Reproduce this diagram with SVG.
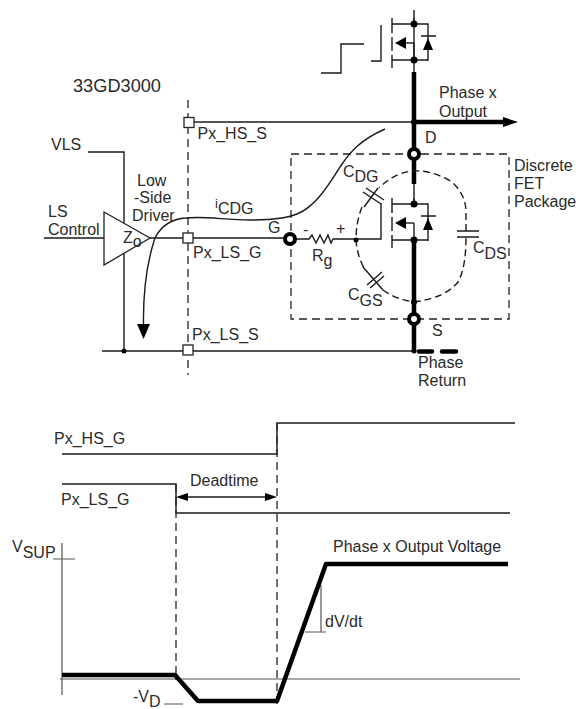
<svg xmlns="http://www.w3.org/2000/svg" width="576" height="709" viewBox="0 0 576 709">
<style>
text{font-family:"Liberation Sans",Arial,sans-serif;font-size:16px;fill:#2a2a2a}
.s{font-size:18.2px}
.l{fill:none;stroke:#1a1a1a;stroke-width:1.4}
.g{fill:none;stroke:#555;stroke-width:1.2}
.t{fill:none;stroke:#000;stroke-width:4.5}
.d{fill:none;stroke:#222;stroke-width:1.3;stroke-dasharray:8 5}
.f{fill:#000;stroke:none}
.n{fill:#fff;stroke:#222;stroke-width:1.3}
.o{fill:#fff;stroke:#000;stroke-width:4}
</style>
<defs>
<g id="fet">
<path class="l" d="M-22 -6V9M-22 13V27M-22 31V44M-22 0H14V12M14 36H-22M0 0V-6M0 19V36M14 37V12M7 12H22"/>
<path class="l" d="M0 19H-8"/>
<path class="f" d="M-19 19L-8 13V25Z M14 14L9 26H19Z"/>
<circle class="f" cx="0" cy="0" r="3.5"/>
<circle class="f" cx="0" cy="36" r="3.5"/>
</g>
</defs>
<g id="connectors">
<path class="l" d="M414 10V72M321 73H341V44H364M381 25V61H371"/>
<path class="t" d="M414 72V184M414 240V352"/>
<path class="t" d="M414 122H505"/>
<path class="f" d="M503 117L518 122L503 127Z"/>
<path class="l" d="M188 122H414"/>
<path class="l" d="M44 238H104M150 238H290M88 152H124V351M102 351H414"/>
<path class="l" d="M290 239H309L312 235L316 243L320 235L324 243L328 235L331 243L333 239H381V203"/>
<path class="l" d="M414 184V204"/>
<path class="t" d="M419 351.500H432M442 351.500H456" stroke-linecap="round"/>
<path class="d" d="M188 100V375"/>
<path class="l" d="M143.500 326C143 295 147 262 155 238C161 226 170 219 186 218C205 216 225 220 250 220C270 220 285 219 297 214C315 207 328 186 340 167C350 152 360 140 385 129"/>
<path class="f" d="M137 324H150L143.500 339Z"/>
<path class="l" stroke-dasharray="7 4" d="M362 207Q356 222 356 240Q357 255 364 268M383 290Q395 299 414 302Q445 298 458 282Q466 268 466 237M466 231V212Q466 195 452 182Q432 170 414 171Q395 172 379 188"/>
<path class="l" d="M457 231H479M457 237H479"/>
<path class="l" d="M363 192L381 204M366 188L384 200M364 207L378 188"/>
<path class="l" d="M367 285L382 272M370 288L384 276M363 267L383 290"/>
<circle class="f" cx="124" cy="351" r="2.500"/>
<circle class="f" cx="356" cy="240" r="2.500"/>
<circle class="f" cx="414" cy="302" r="3"/>
<circle class="f" cx="414" cy="122" r="3"/>
<circle class="f" cx="414" cy="351" r="2.500"/>
</g>
<g id="hs-fet"><use href="#fet" transform="translate(414 24)"/></g>
<g id="ls-fet"><use href="#fet" transform="translate(414 204)"/></g>
<g id="package"><rect class="d" x="291" y="154" width="218" height="165"/></g>
<g id="driver"><path class="n" d="M104 212L150 238L104 265Z"/></g>
<g id="pad-hs"><rect class="n" x="184" y="117.500" width="10" height="10"/></g>
<g id="pad-lsg"><rect class="n" x="183" y="233" width="10" height="10"/></g>
<g id="pad-lss"><rect class="n" x="183" y="345" width="10" height="10"/></g>
<g id="term-d"><circle class="o" cx="414" cy="154" r="5"/></g>
<g id="term-s"><circle class="o" cx="414" cy="319" r="5"/></g>
<g id="term-g"><circle class="o" cx="290" cy="239" r="5"/></g>
<g id="labels">
<text x="73" y="92" class="s">33GD3000</text>
<text x="51" y="150">VLS</text>
<text x="48" y="217">LS</text>
<text x="48" y="235">Control</text>
<text x="137" y="186">Low</text>
<text x="134" y="203">-Side</text>
<text x="132" y="221">Driver</text>
<text x="123" y="243">Z<tspan dy="4">o</tspan></text>
<text x="197.500" y="139">Px_HS_S</text>
<text x="193" y="258">Px_LS_G</text>
<text x="192" y="340">Px_LS_S</text>
<text x="215" y="208" style="font-size:13px">i<tspan style="font-size:16px" dy="6">CDG</tspan></text>
<text x="268" y="233">G</text>
<text x="439" y="98">Phase x</text>
<text x="439" y="117">Output</text>
<text x="425" y="143">D</text>
<text x="514" y="171">Discrete</text>
<text x="514" y="189">FET</text>
<text x="514" y="207">Package</text>
<text x="343" y="177">C<tspan dy="5">DG</tspan></text>
<text x="473" y="253">C<tspan dy="6">DS</tspan></text>
<text x="348" y="300">C<tspan dy="6">GS</tspan></text>
<text x="303" y="235">-</text>
<text x="336" y="234">+</text>
<text x="312" y="261">R<tspan dy="5">g</tspan></text>
<text x="432" y="336">S</text>
<text x="418" y="368">Phase</text>
<text x="418" y="386">Return</text>
<text x="54" y="444">Px_HS_G</text>
<text x="61" y="505">Px_LS_G</text>
<text x="190" y="486">Deadtime</text>
<text x="12" y="552">V<tspan dy="6">SUP</tspan></text>
<text x="333" y="552">Phase x Output Voltage</text>
<text x="325" y="627">dV/dt</text>
<text x="133" y="702">-V<tspan dy="5">D</tspan></text>
</g>
<g id="timing">
<path class="l" d="M62 454H277V423H515M62 484H176V513H510"/>
<path class="d" d="M176 484V680M277 423V709" stroke-dasharray="7 6" stroke-width="1"/>
<path class="l" d="M188 497H265"/>
<path class="f" d="M176 497L188 493V501Z M277 497L265 493V501Z"/>
<path class="g" d="M62 543V695M53 559H75M60 679H520M321 585V632M305 632H326M164 704H183"/>
<path class="t" d="M62 675H175L198 701H277L326 564H508" stroke-linejoin="round"/>
</g>
</svg>
